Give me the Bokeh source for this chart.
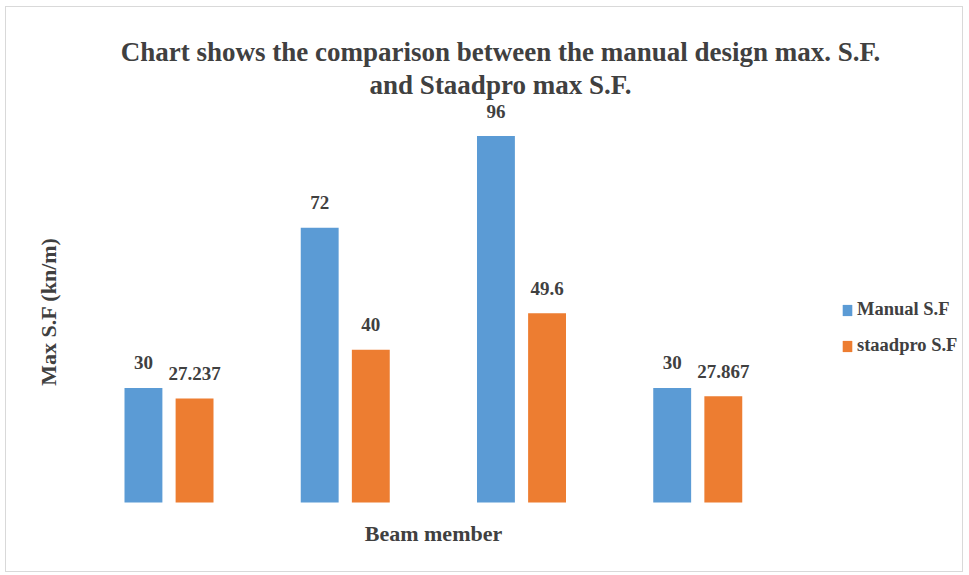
import math
from bokeh.plotting import figure
from bokeh.models import (ColumnDataSource, Range1d, LabelSet, Label, Legend, LegendItem)
from bokeh.transform import dodge
from bokeh.embed import file_html
from bokeh.resources import INLINE

# ---- data ----
members = ["1", "2", "3", "4"]
manual_sf = [30, 72, 96, 30]
staadpro_sf = [27.237, 40, 49.6, 27.867]
series_names = ["Manual S.F", "staadpro S.F"]
title_lines = ["Chart shows the comparison between the manual design max. S.F.",
               "and Staadpro max S.F."]
x_label = "Beam member"
y_label = "Max S.F (kn/m)"

# ---- styling / layout constants (pixels) ----
BLUE = "#5B9BD5"
ORANGE = "#ED7D31"
TXT = "#404040"
FONT = "'Liberation Serif', 'DejaVu Serif', serif"
W, H = 958, 566            # figure inner size
OX, OY = 6, 7              # page offset of the figure content
PX_X = 176.25              # pixels per category
PX_Y = 3.817               # pixels per unit of S.F
FIRST_CENTER = 168.5 - OX  # x pixel of first group's centre
BASE_Y = 502 - OY          # y pixel (from top) of zero line

x0 = -FIRST_CENTER / PX_X
y0 = -(H - BASE_Y) / PX_Y

def fmt(v):
    return f"{v:g}"

src = ColumnDataSource(dict(
    x=list(range(len(members))),
    m=members,
    manual=manual_sf,
    staad=staadpro_sf,
    manual_txt=[fmt(v) for v in manual_sf],
    staad_txt=[fmt(v) for v in staadpro_sf],
))

p = figure(width=W, height=H,
           x_range=Range1d(x0, x0 + W / PX_X), y_range=Range1d(y0, y0 + H / PX_Y),
           output_backend="svg", toolbar_location=None,
           min_border=0, margin=(6, 0, 0, 5))
p.styles = {"border": "1px solid #D9D9D9"}
p.outline_line_color = None
p.grid.visible = False
p.axis.visible = False
p.background_fill_color = "white"
p.border_fill_color = "white"

off = 0.145
w = 0.215
r1 = p.vbar(x=dodge("x", -off), top="manual", width=w, source=src,
            fill_color=BLUE, line_color=None)
r2 = p.vbar(x=dodge("x", off), top="staad", width=w, source=src,
            fill_color=ORANGE, line_color=None)

for col, txt, dx in (("manual", "manual_txt", -off), ("staad", "staad_txt", off)):
    p.add_layout(LabelSet(x=dodge("x", dx), y=col, text=txt, source=src,
                          y_offset=25, text_align="center", text_baseline="middle",
                          text_font=FONT, text_font_style="bold", text_font_size="19px",
                          text_color=TXT))

def scr(px, py, **kw):
    """Label at page pixel (px, py) measured from the top-left of the window."""
    return Label(x=px - OX, y=H - (py - OY), x_units="screen", y_units="screen",
                 text_font=FONT, text_font_style="bold", text_color=TXT, **kw)

# title
p.add_layout(scr(500, 51, text=title_lines[0], text_align="center",
                 text_baseline="alphabetic", text_font_size="27px"))
p.add_layout(scr(500, 84, text=title_lines[1], text_align="center",
                 text_baseline="alphabetic", text_font_size="27px"))
# axis titles
p.add_layout(scr(433, 533, text=x_label, text_align="center",
                 text_baseline="middle", text_font_size="22px"))
p.add_layout(scr(48, 311, text=y_label, text_align="center", angle=math.pi / 2,
                 text_baseline="middle", text_font_size="22px"))

legend = Legend(items=[LegendItem(label=series_names[0], renderers=[r1]),
                       LegendItem(label=series_names[1], renderers=[r2])],
                location=(841 - OX, H - (356 - OY)), orientation="vertical",
                glyph_width=12, glyph_height=14, label_height=14, spacing=15,
                label_standoff=4, padding=0, margin=0,
                border_line_color=None, background_fill_alpha=0,
                label_text_font=FONT, label_text_font_style="bold",
                label_text_font_size="18.5px", label_text_color=TXT)
p.add_layout(legend, "center")

open("out.html", "w").write(file_html(p, INLINE))
